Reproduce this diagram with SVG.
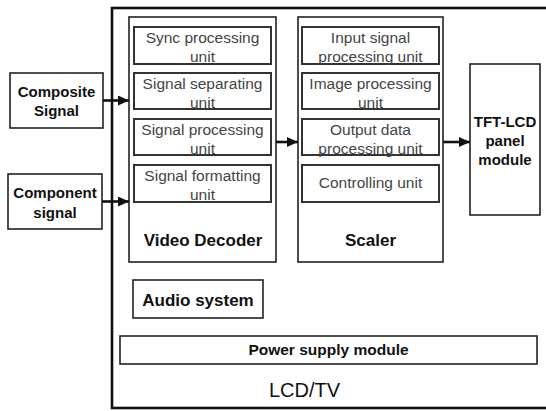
<svg xmlns="http://www.w3.org/2000/svg" width="546" height="411" viewBox="0 0 546 411">
  <style>
    .box { fill: #fff; stroke: #222; stroke-width: 1.6; }
    .frame { fill: none; stroke: #111; stroke-width: 2.6; }
    .unit { fill: #fff; stroke: #333; stroke-width: 2; }
    .utxt { font-family: "Liberation Sans", Arial, sans-serif; font-size: 15.5px; fill: #444; text-anchor: middle; }
    .btxt { font-family: "Liberation Sans", Arial, sans-serif; font-weight: bold; fill: #111; text-anchor: middle; }
    .link { fill: none; stroke: #111; stroke-width: 2.6; }
  </style>
  <defs>
    <marker id="head" markerUnits="userSpaceOnUse" markerWidth="12" markerHeight="10" refX="11" refY="5" orient="auto">
      <path d="M0,0 L11,5 L0,10 Z" fill="#111"/>
    </marker>
  </defs>
  <rect width="546" height="411" fill="#fff"/>

  <!-- enclosing LCD/TV frame -->
  <g id="lcdtv">
    <rect class="frame" x="112" y="8" width="440" height="400"/>
    <text class="btxt" x="304.5" y="397" style="font-weight:normal;font-size:20px">LCD/TV</text>
  </g>

  <g id="composite">
    <rect class="box" x="10" y="73" width="93" height="55"/>
    <text class="btxt" x="56.5" y="97" font-size="15">Composite</text>
    <text class="btxt" x="56.5" y="116" font-size="15">Signal</text>
  </g>

  <g id="component">
    <rect class="box" x="8" y="174" width="94" height="55"/>
    <text class="btxt" x="55" y="198" font-size="15">Component</text>
    <text class="btxt" x="55" y="218" font-size="15">signal</text>
  </g>

  <g id="video-decoder">
    <rect class="box" x="129" y="17" width="147" height="245"/>
    <rect class="unit" x="134" y="27" width="137" height="37"/>
    <text class="utxt" x="202.5" y="42.5">Sync processing</text>
    <text class="utxt" x="202.5" y="61.5">unit</text>
    <rect class="unit" x="134" y="73" width="137" height="36"/>
    <text class="utxt" x="202.5" y="88.5">Signal separating</text>
    <text class="utxt" x="202.5" y="107.5">unit</text>
    <rect class="unit" x="134" y="119" width="137" height="36"/>
    <text class="utxt" x="202.5" y="134.5">Signal processing</text>
    <text class="utxt" x="202.5" y="153.5">unit</text>
    <rect class="unit" x="134" y="165" width="137" height="37"/>
    <text class="utxt" x="202.5" y="180.5">Signal formatting</text>
    <text class="utxt" x="202.5" y="199.5">unit</text>
    <text class="btxt" x="203" y="246" font-size="17">Video Decoder</text>
  </g>

  <g id="scaler">
    <rect class="box" x="298" y="17" width="145" height="245"/>
    <rect class="unit" x="302" y="27" width="137" height="37"/>
    <text class="utxt" x="370.5" y="42.5">Input signal</text>
    <text class="utxt" x="370.5" y="61.5">processing unit</text>
    <rect class="unit" x="302" y="73" width="137" height="36"/>
    <text class="utxt" x="370.5" y="88.5">Image processing</text>
    <text class="utxt" x="370.5" y="107.5">unit</text>
    <rect class="unit" x="302" y="119" width="137" height="36"/>
    <text class="utxt" x="370.5" y="134.5">Output data</text>
    <text class="utxt" x="370.5" y="153.5">processing unit</text>
    <rect class="unit" x="302" y="165" width="137" height="37"/>
    <text class="utxt" x="370.5" y="188">Controlling unit</text>
    <text class="btxt" x="370.5" y="246" font-size="17">Scaler</text>
  </g>

  <g id="tft-lcd">
    <rect class="box" x="470" y="64" width="70" height="151"/>
    <text class="btxt" x="505" y="127" font-size="15">TFT-LCD</text>
    <text class="btxt" x="505" y="146" font-size="15">panel</text>
    <text class="btxt" x="505" y="165" font-size="15">module</text>
  </g>

  <g id="audio">
    <rect class="box" x="133" y="280" width="130" height="38"/>
    <text class="btxt" x="198" y="306" font-size="17">Audio system</text>
  </g>

  <g id="power">
    <rect class="box" x="120" y="336" width="417" height="28"/>
    <text class="btxt" x="328.5" y="355" font-size="15.5">Power supply module</text>
  </g>

  <!-- signal flow -->
  <g id="connectors">
    <line class="link" x1="103" y1="100.5" x2="129" y2="100.5" marker-end="url(#head)"/>
    <line class="link" x1="102" y1="201.5" x2="129" y2="201.5" marker-end="url(#head)"/>
    <line class="link" x1="276" y1="142" x2="298" y2="142" marker-end="url(#head)"/>
    <line class="link" x1="443" y1="142" x2="470" y2="142" marker-end="url(#head)"/>
  </g>
</svg>
